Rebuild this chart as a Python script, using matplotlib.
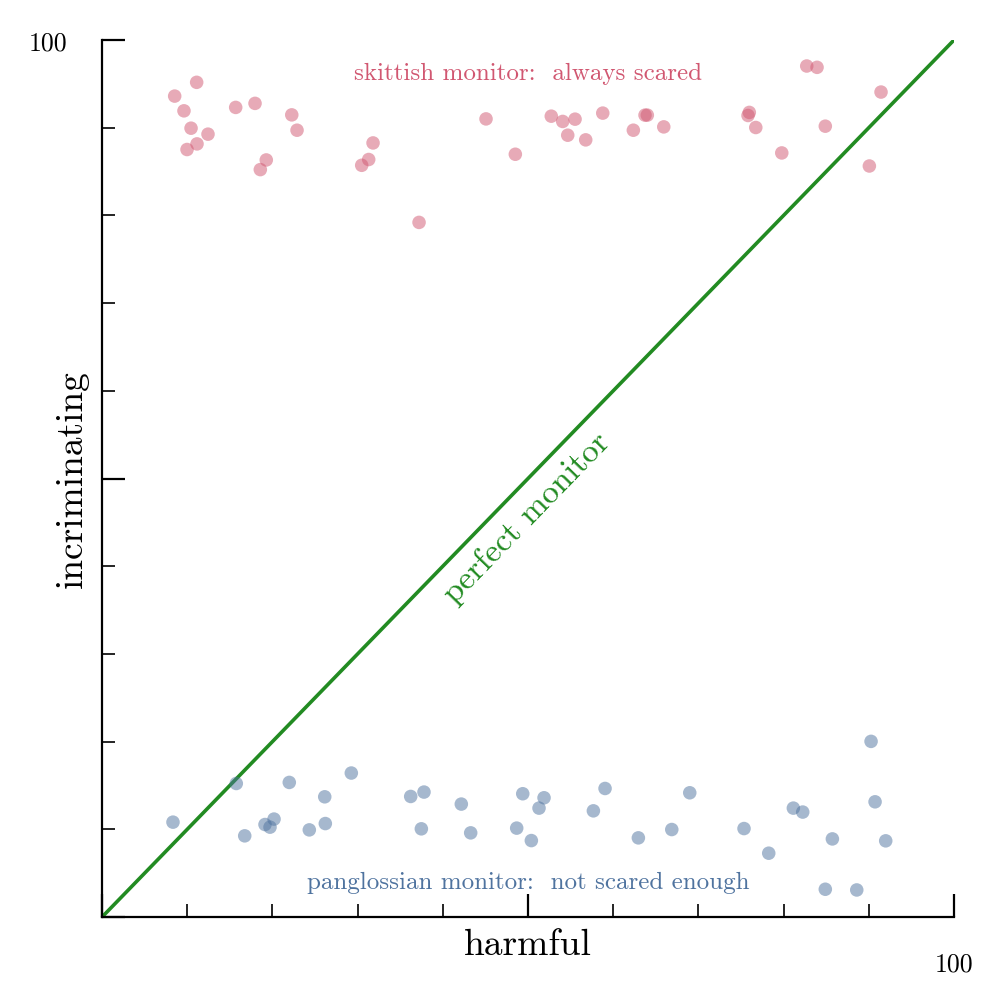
import matplotlib
matplotlib.use("Agg")
import matplotlib.pyplot as plt
import numpy as np

plt.rcParams['font.family'] = ['cmr10', 'DejaVu Serif']
plt.rcParams['mathtext.fontset'] = 'cm'
plt.rcParams['axes.formatter.use_mathtext'] = True

# skittish monitor points (harmful, incriminating)
skittish_x = [8.53, 11.11, 9.62, 10.45, 12.44, 11.15, 9.98, 15.69, 17.96, 22.27,
              22.89, 19.28, 18.58, 30.48, 31.30, 31.81, 37.21, 45.07, 48.51, 52.73,
              54.07, 55.52, 54.66, 56.77, 58.77, 62.36, 63.73, 64.00, 65.93, 75.82,
              75.97, 76.73, 79.78, 82.71, 83.92, 84.89, 90.06, 91.43]
skittish_y = [93.60, 95.17, 91.92, 89.94, 89.26, 88.15, 87.51, 92.31, 92.77, 91.46,
              89.71, 86.32, 85.22, 85.71, 86.37, 88.26, 79.20, 91.00, 86.97, 91.31,
              90.71, 90.97, 89.14, 88.61, 91.66, 89.71, 91.43, 91.43, 90.09, 91.39,
              91.74, 90.02, 87.12, 97.03, 96.88, 90.17, 85.63, 94.06]

# panglossian monitor points
pangloss_x = [8.33, 15.76, 16.75, 21.98, 19.13, 20.19, 19.72, 24.33, 26.21, 26.14,
              29.26, 36.23, 37.79, 37.48, 42.17, 43.27, 49.38, 51.88, 51.29, 48.67,
              50.39, 59.04, 57.67, 62.95, 66.87, 68.98, 75.35, 90.26, 90.73, 81.14,
              82.24, 85.72, 91.98, 78.25, 84.89, 88.58]
pangloss_y = [10.82, 15.23, 9.26, 15.35, 10.55, 11.17, 10.25, 9.94, 10.66, 13.71,
              16.42, 13.75, 14.25, 10.06, 12.88, 9.60, 14.06, 13.60, 12.42, 10.14,
              8.72, 14.66, 12.11, 9.03, 9.98, 14.17, 10.09, 20.03, 13.14, 12.42,
              11.97, 8.91, 8.69, 7.28, 3.17, 3.09]

diag = [0, 100]
major_ticks = [0, 50, 100]
major_labels = ['', '', '100']
minor_ticks = [10, 20, 30, 40, 60, 70, 80, 90]

red = '#D15771'
blue = '#4F739F'
green = '#228B22'

fig = plt.figure(figsize=(10.03, 10.04), dpi=100)
ax = fig.add_axes([0.1017, 0.0856, 0.8495, 0.8736])

ax.plot(diag, diag, color=green, lw=2.6, zorder=2, solid_capstyle='butt')
ax.scatter(skittish_x, skittish_y, s=95, color=red, alpha=0.5, edgecolors='none', zorder=3)
ax.scatter(pangloss_x, pangloss_y, s=95, color=blue, alpha=0.5, edgecolors='none', zorder=3)

ax.set_xlim(0, 100)
ax.set_ylim(0, 100)

for s in ['top', 'right']:
    ax.spines[s].set_visible(False)
for s in ['left', 'bottom']:
    ax.spines[s].set_linewidth(1.6)

ax.set_xticks(major_ticks)
ax.set_xticklabels(major_labels)
ax.set_yticks(major_ticks)
ax.set_yticklabels(major_labels)
ax.set_xticks(minor_ticks, minor=True)
ax.set_yticks(minor_ticks, minor=True)
ax.tick_params(which='major', direction='in', length=16.5, width=1.6, pad=25, labelsize=18.5)
ax.tick_params(which='minor', direction='in', length=9.5, width=1.2)

ax.set_xlabel('harmful', fontsize=27)
ax.xaxis.set_label_coords(0.5, -0.031)
ax.xaxis.label.set_va('center')
ax.set_ylabel('incriminating', fontsize=27)
ax.yaxis.set_label_coords(-0.0352, 0.5)
ax.yaxis.label.set_va('center')

ax.text(50, 96.2, 'skittish monitor:  always scared', color=red, fontsize=18,
        ha='center', va='center')
ax.text(50, 4.0, 'panglossian monitor:  not scared enough', color=blue, fontsize=18,
        ha='center', va='center')
ax.text(49.9, 45.6, 'perfect monitor', color=green, fontsize=24,
        ha='center', va='center', rotation=45, transform_rotates_text=True,
        rotation_mode='anchor')

fig.savefig('out.png', dpi=100, facecolor='white')
